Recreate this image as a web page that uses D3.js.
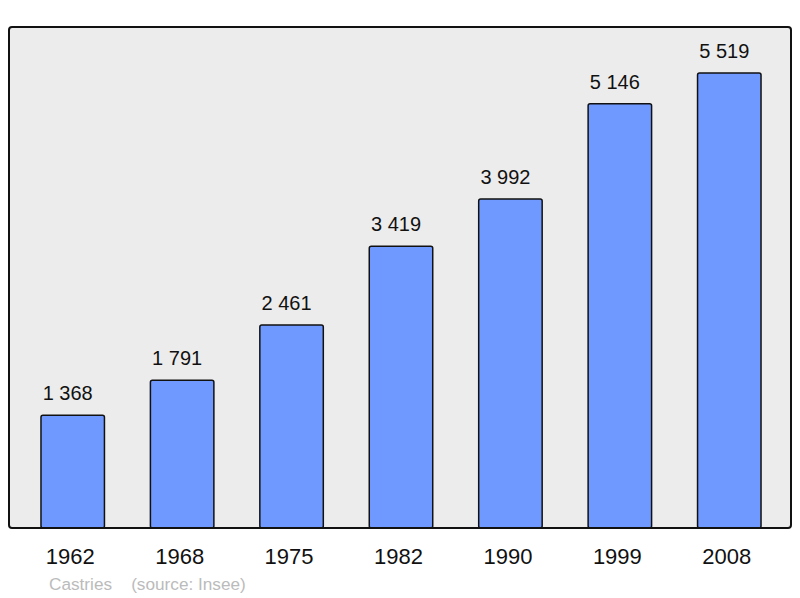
<!DOCTYPE html>
<html>
<head>
<meta charset="utf-8">
<script src="https://cdn.jsdelivr.net/npm/d3@7"></script>
<style>
  body { margin: 0; background: #fff; }
  text { font-family: "Liberation Sans", Arial, sans-serif; }
</style>
</head>
<body>
<svg width="800" height="598"></svg>
<script>
const years = ['1962', '1968', '1975', '1982', '1990', '1999', '2008'];
const population = [1368, 1791, 2461, 3419, 3992, 5146, 5519];
const townName = 'Castries';
const sourceNote = '(source: Insee)';

const svg = d3.select('svg');

const frame = { left: 9, top: 27, right: 791, bottom: 528 };

const fmt = d3.formatLocale({ decimal: ',', thousands: ' ', grouping: [3], currency: ['', ''] }).format(',d');

const x = d3.scaleBand()
    .domain(years)
    .range([18, 784])
    .paddingInner(0.42)
    .paddingOuter(0.21);

const y = d3.scaleLinear()
    .domain([0, 6077])
    .range([frame.bottom, frame.top]);

// plot background
svg.append('rect')
    .attr('x', frame.left)
    .attr('y', frame.top)
    .attr('width', frame.right - frame.left)
    .attr('height', frame.bottom - frame.top)
    .attr('rx', 3)
    .attr('fill', '#ececec');

const bars = svg.append('g');

bars.selectAll('rect')
  .data(population)
  .join('rect')
    .attr('x', (d, i) => x(years[i]))
    .attr('y', d => y(d))
    .attr('width', x.bandwidth())
    .attr('height', d => y(0) - y(d))
    .attr('rx', 2)
    .attr('fill', '#7099ff')
    .attr('stroke', '#111')
    .attr('stroke-width', 1.5);

// value labels sit a little left of the bar centre, like the original
bars.selectAll('text')
  .data(population)
  .join('text')
    .attr('x', (d, i) => x(years[i]) + x.bandwidth() / 2 - 5)
    .attr('y', d => y(d) - 15)
    .attr('text-anchor', 'middle')
    .attr('font-size', 20)
    .attr('fill', '#111')
    .text(d => fmt(d));

// frame on top of the bars
svg.append('rect')
    .attr('x', frame.left)
    .attr('y', frame.top)
    .attr('width', frame.right - frame.left)
    .attr('height', frame.bottom - frame.top)
    .attr('rx', 3)
    .attr('fill', 'none')
    .attr('stroke', '#111')
    .attr('stroke-width', 2);

const xAxis = svg.append('g')
    .attr('transform', `translate(-2.5, ${frame.bottom})`)
    .call(d3.axisBottom(x).tickSize(0).tickPadding(20));

xAxis.select('.domain').remove();
xAxis.selectAll('text')
    .attr('font-size', 22)
    .attr('fill', '#111')
    .style('font-family', '"Liberation Sans", Arial, sans-serif');

svg.append('text')
    .attr('x', 49)
    .attr('y', 590)
    .attr('font-size', 17.2)
    .attr('fill', '#bbb')
    .attr('xml:space', 'preserve')
    .text(townName + '    ' + sourceNote);
</script>
</body>
</html>
